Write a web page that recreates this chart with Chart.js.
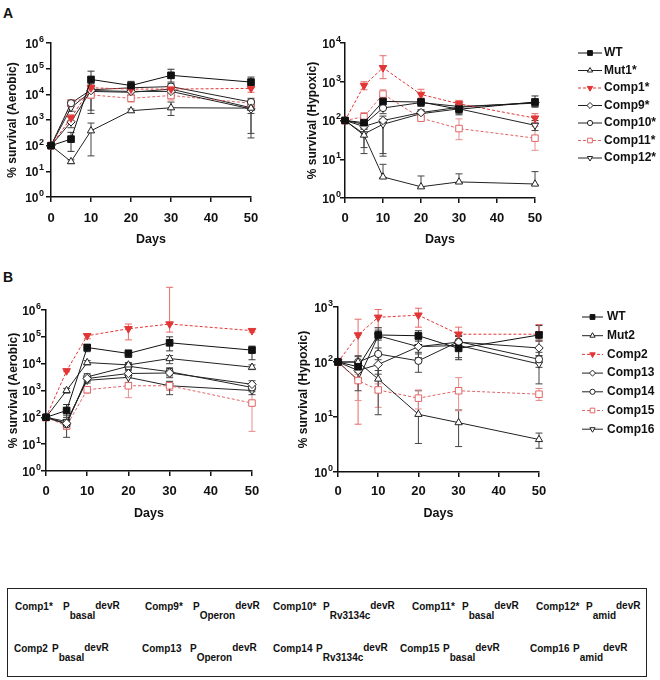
<!DOCTYPE html>
<html><head><meta charset="utf-8">
<script src="https://cdn.jsdelivr.net/npm/chart.js@4.4.0/dist/chart.umd.min.js"></script>
<style>
body{margin:0;width:660px;height:680px;position:relative;background:#fff;font-family:"Liberation Sans",Arial,sans-serif;font-weight:bold;overflow:hidden;color:#111}
canvas{position:absolute}
.lbl{position:absolute;font-size:14px;line-height:16px}
#box{position:absolute;left:7px;top:588px;width:638px;height:87px;border:1.5px solid #222}
.t{position:absolute;font-size:10px;line-height:12px;white-space:nowrap}
.t .sb,.t .sp{font-size:10px;position:relative}
.t .sb{top:8.5px}
.t .sp{top:-1.5px}
</style></head><body>
<div class="lbl" style="left:3px;top:5px">A</div>
<div class="lbl" style="left:3px;top:269px">B</div>
<canvas id="cAL" width="290" height="260" style="left:0;top:0"></canvas>
<canvas id="cAR" width="360" height="260" style="left:300px;top:0"></canvas>
<canvas id="cBL" width="290" height="260" style="left:0;top:270px"></canvas>
<canvas id="cBR" width="368" height="260" style="left:292px;top:270px"></canvas>
<div id="box"></div>
<div id="boxText"></div>
<script>
// ---------------- DATA ----------------
const days = [0, 5, 10, 20, 30, 50];
const dayTicks = [0, 10, 20, 30, 40, 50];
const tickAerobic = [1, 10, 100, 1000, 10000, 100000, 1000000];
const tickHypoxicA = [1, 10, 100, 1000, 10000];
const tickHypoxicB = [1, 10, 100, 1000];
const seriesA = ['WT', 'Mut1*', 'Comp1*', 'Comp9*', 'Comp10*', 'Comp11*', 'Comp12*'];
const seriesB = ['WT', 'Mut2', 'Comp2', 'Comp13', 'Comp14', 'Comp15', 'Comp16'];

// Panel A, aerobic (mean and [low, high] error)
const aAerWT = [100, 180, 38000, 22000, 55000, 30000];
const aAerWTerr = [[100,100],[60,330],[20000,80000],[15000,32000],[30000,95000],[18000,47000]];
const aAerMut1 = [100, 24, 380, 2300, 3000, 2900];
const aAerMut1err = [[100,100],[20,28],[40,760],[2000,2700],[1500,5000],[1800,4500]];
const aAerComp1 = [100, 1200, 18000, 16000, 16000, 17000];
const aAerComp1err = [[100,100],[900,1600],[12000,25000],[10000,22000],[10000,22000],[12000,22000]];
const aAerComp9 = [100, 850, 14000, 13000, 13000, 2700];
const aAerComp9err = [[100,100],[500,1300],[1800,26000],[9000,18000],[9000,18000],[300,4000]];
const aAerComp10 = [100, 4500, 15000, 18000, 20000, 5000];
const aAerComp10err = [[100,100],[3500,6000],[10000,22000],[13000,24000],[14000,26000],[3500,7000]];
const aAerComp11 = [100, 4500, 9500, 7000, 9000, 4500];
const aAerComp11err = [[100,100],[3500,6000],[7000,13000],[5000,10000],[6000,12000],[3000,6000]];
const aAerComp12 = [100, 3000, 13000, 12000, 16000, 3000];
const aAerComp12err = [[100,100],[2200,4000],[2400,20000],[9000,16000],[10000,20000],[200,5000]];

// Panel A, hypoxic
const aHypWT = [100, 88, 310, 300, 195, 300];
const aHypWTerr = [[100,100],[70,110],[220,420],[250,360],[140,260],[230,430]];
const aHypMut1 = [100, 42, 3.5, 1.95, 2.6, 2.3];
const aHypMut1err = [[100,100],[14,60],[3.4,7.4],[1.9,3.7],[2.5,4.2],[2.2,4.8]];
const aHypComp1 = [100, 800, 2300, 470, 270, 115];
const aHypComp1err = [[100,100],[620,1000],[1200,4700],[380,640],[220,330],[90,150]];
const aHypComp9 = [100, 70, 100, 160, 220, 290];
const aHypComp9err = [[100,100],[50,90],[14,130],[130,190],[170,270],[230,360]];
const aHypComp10 = [100, 80, 210, 290, 230, 280];
const aHypComp10err = [[100,100],[60,100],[150,270],[230,350],[180,290],[220,350]];
const aHypComp11 = [100, 125, 480, 115, 62, 35];
const aHypComp11err = [[100,100],[100,160],[380,620],[95,140],[32,110],[17,70]];
const aHypComp12 = [100, 45, 80, 150, 200, 75];
const aHypComp12err = [[100,100],[20,65],[12,110],[120,180],[150,250],[55,100]];

// Panel B, aerobic
const bAerWT = [100, 180, 40000, 24000, 60000, 32000];
const bAerWTerr = [[100,100],[100,300],[28000,52000],[17000,32000],[30000,100000],[14000,45000]];
const bAerMut2 = [100, 1000, 11000, 9000, 15500, 7400];
const bAerMut2err = [[100,100],[800,1200],[9000,13000],[7000,11000],[10000,20000],[6000,9000]];
const bAerComp2 = [100, 5400, 110000, 200000, 300000, 170000];
const bAerComp2err = [[100,100],[5000,6000],[85000,130000],[77000,300000],[150000,7000000],[150000,190000]];
const bAerComp13 = [100, 60, 2800, 4300, 4500, 1700];
const bAerComp13err = [[100,100],[45,80],[2200,3500],[3000,6000],[3000,6500],[1100,2300]];
const bAerComp14 = [100, 55, 3200, 8000, 5000, 1300];
const bAerComp14err = [[100,100],[40,75],[2500,4200],[5500,10000],[3500,7000],[900,1800]];
const bAerComp15 = [100, 48, 1070, 1500, 1500, 340];
const bAerComp15err = [[100,100],[35,60],[800,1400],[540,3000],[1000,2100],[30,1000]];
const bAerComp16 = [100, 70, 2400, 3100, 1500, 1000];
const bAerComp16err = [[100,100],[18,120],[1900,3000],[2000,4500],[700,2200],[700,1300]];

// Panel B, hypoxic
const bHypWT = [100, 82, 310, 300, 177, 310];
const bHypWTerr = [[100,100],[65,100],[250,380],[240,370],[110,240],[250,460]];
const bHypMut2 = [100, 100, 49, 11.2, 7.9, 3.9];
const bHypMut2err = [[100,100],[80,125],[28,70],[3.3,30],[2.9,13.4],[2.7,5.1]];
const bHypComp2 = [100, 310, 650, 710, 320, 320];
const bHypComp2err = [[100,100],[7.4,600],[420,900],[430,950],[240,430],[240,480]];
const bHypComp13 = [100, 70, 90, 190, 230, 180];
const bHypComp13err = [[100,100],[50,95],[60,130],[140,260],[180,290],[130,240]];
const bHypComp14 = [100, 100, 140, 105, 235, 112];
const bHypComp14err = [[100,100],[80,130],[110,180],[65,150],[180,300],[80,150]];
const bHypComp15 = [100, 46, 31, 22, 30, 26];
const bHypComp15err = [[100,100],[20,60],[15,40],[14,31],[13,52],[20,33]];
const bHypComp16 = [100, 47, 300, 190, 200, 92];
const bHypComp16err = [[100,100],[30,70],[11,420],[120,260],[120,300],[40,130]];

// Construct table
const boxRow1 = [['Comp1*','basal'],['Comp9*','Operon'],['Comp10*','Rv3134c'],['Comp11*','basal'],['Comp12*','amid']];
const boxRow2 = [['Comp2','basal'],['Comp13','Operon'],['Comp14','Rv3134c'],['Comp15','basal'],['Comp16','amid']];
const geneName = 'devR';

// ---------------- STYLE ----------------
const FONT = '"Liberation Sans", Arial, sans-serif';
const STY = [
  {c:'#111', f:'#111', s:'rect', rot:0, r:4.7, d:[], e:'#333'},
  {c:'#222', f:'#fff', s:'triangle', rot:0, r:4.2, d:[], e:'#444'},
  {c:'#e23636', f:'#e23636', s:'triangle', rot:180, r:4.4, d:[3,2], e:'#e86a6a'},
  {c:'#222', f:'#fff', s:'rectRot', rot:0, r:4.2, d:[], e:'#444'},
  {c:'#222', f:'#fff', s:'circle', rot:0, r:3.6, d:[], e:'#444'},
  {c:'#e06565', f:'#fff', s:'rect', rot:0, r:4.6, d:[3,2], e:'#ea8c8c'},
  {c:'#222', f:'#fff', s:'triangle', rot:180, r:4.2, d:[], e:'#444'}
];

function makeSets(labels, means, errs){
  return labels.map((lab,i)=>({
    label: lab,
    data: days.map((d,j)=>({x:d, y:means[i][j]})),
    errBars: errs[i], errColor: STY[i].e,
    borderColor: STY[i].c, borderWidth: 1, borderDash: STY[i].d,
    pointStyle: STY[i].s, pointRotation: STY[i].rot, pointRadius: STY[i].r,
    pointBackgroundColor: STY[i].f, pointBorderColor: STY[i].c, pointBorderWidth: 1,
    tension: 0, clip: false, fill: false
  }));
}

const errPlugin = {id:'errs', beforeDatasetsDraw(chart){
  const ctx = chart.ctx, xs = chart.scales.x, ys = chart.scales.y;
  chart.data.datasets.forEach(ds=>{
    ctx.save(); ctx.strokeStyle = ds.errColor; ctx.lineWidth = 1;
    ds.errBars.forEach((pr,j)=>{
      if (pr[0] === pr[1]) return;
      const px = xs.getPixelForValue(ds.data[j].x);
      const y1 = ys.getPixelForValue(pr[0]), y2 = ys.getPixelForValue(pr[1]);
      ctx.beginPath();
      ctx.moveTo(px, y1); ctx.lineTo(px, y2);
      ctx.moveTo(px-3.5, y1); ctx.lineTo(px+3.5, y1);
      ctx.moveTo(px-3.5, y2); ctx.lineTo(px+3.5, y2);
      ctx.stroke();
    });
    ctx.restore();
  });
}};

const yLabPlugin = {id:'yLab', afterDraw(chart, args, o){
  const ctx = chart.ctx, s = chart.scales.y, ax = chart.chartArea.left;
  ctx.save(); ctx.fillStyle = '#111'; ctx.textBaseline = 'middle'; ctx.textAlign = 'right';
  s.ticks.forEach(t=>{
    const py = s.getPixelForValue(t.value);
    const e = String(Math.round(Math.log10(t.value)));
    ctx.font = 'bold 9px ' + FONT;
    const ew = ctx.measureText(e).width;
    ctx.fillText(e, ax - o.expGap, py - 3.5);
    ctx.font = 'bold 12px ' + FONT;
    ctx.fillText('10', ax - o.expGap - ew - o.sep, py + 1.5);
  });
  ctx.restore();
}};

function drawMarker(ctx, ds, x, y, scale){
  ctx.fillStyle = ds.pointBackgroundColor; ctx.strokeStyle = ds.pointBorderColor; ctx.lineWidth = 1;
  const r = ds.pointRadius * scale;
  if (Chart.helpers && Chart.helpers.drawPoint) {
    Chart.helpers.drawPoint(ctx, {pointStyle: ds.pointStyle, rotation: ds.pointRotation, radius: r, borderWidth: 1}, x, y);
    return;
  }
  ctx.beginPath();
  if (ds.pointStyle === 'circle') ctx.arc(x, y, r, 0, Math.PI*2);
  else if (ds.pointStyle === 'rect') { const h = r*Math.SQRT1_2; ctx.rect(x-h, y-h, 2*h, 2*h); }
  else if (ds.pointStyle === 'rectRot') { ctx.moveTo(x, y-r); ctx.lineTo(x+r, y); ctx.lineTo(x, y+r); ctx.lineTo(x-r, y); ctx.closePath(); }
  else { let a = ds.pointRotation*Math.PI/180; for (let k=0;k<3;k++){ const px=x+Math.sin(a)*r, py=y-Math.cos(a)*r; k?ctx.lineTo(px,py):ctx.moveTo(px,py); a+=2*Math.PI/3;} ctx.closePath(); }
  ctx.fill(); ctx.stroke();
}

const legPlugin = {id:'leg', afterDraw(chart, args, o){
  if (!o.show) return;
  const ctx = chart.ctx;
  chart.data.datasets.forEach((ds,i)=>{
    const y = o.y0 + i*o.dy;
    ctx.save();
    ctx.strokeStyle = ds.borderColor; ctx.lineWidth = 1; ctx.setLineDash(ds.borderDash);
    ctx.beginPath(); ctx.moveTo(o.x0, y); ctx.lineTo(o.x1, y); ctx.stroke();
    ctx.setLineDash([]);
    drawMarker(ctx, ds, (o.x0+o.x1)/2, y, 0.72);
    ctx.fillStyle = '#111'; ctx.font = 'bold 12px ' + FONT; ctx.textAlign = 'left'; ctx.textBaseline = 'middle';
    ctx.fillText(ds.label, o.tx, y);
    ctx.restore();
  });
}};

function makeChart(id, cfg){
  const cv = document.getElementById(id);
  const ca = cfg.area;
  const axisGrid = {display:true, drawOnChartArea:false, drawTicks:true, tickLength:5, color:'#111', lineWidth:1.5};
  const axisBorder = {display:true, color:'#111', width:1.5};
  return new Chart(cv, {
    type: 'line',
    data: {datasets: makeSets(cfg.labels, cfg.means, cfg.errs)},
    options: {
      responsive: false, animation: false, devicePixelRatio: 1,
      layout: {padding: {left: 0, top: ca.t, right: cv.width - ca.r, bottom: cv.height - cfg.daysBottom}},
      scales: {
        x: {type:'linear', min:0, max:50,
            afterBuildTicks: s=>{ s.ticks = dayTicks.map(v=>({value:v})); },
            afterFit: s=>{ s.height = cfg.daysBottom - ca.b; },
            grid: axisGrid, border: axisBorder,
            ticks: {color:'#111', font:{family:FONT, size:13, weight:'bold'}, padding: cfg.tickPad, maxRotation:0},
            title: {display:true, text:'Days', color:'#111', font:{family:FONT, size:12.5, weight:'bold'}, padding:{top:0, bottom:0}}},
        y: {type:'logarithmic', min: cfg.yTicks[0], max: cfg.yTicks[cfg.yTicks.length-1],
            afterBuildTicks: s=>{ s.ticks = cfg.yTicks.map(v=>({value:v})); },
            afterFit: s=>{ s.width = ca.l; },
            grid: axisGrid, border: axisBorder,
            ticks: {display:false},
            title: {display:true, text: cfg.yTitle, color:'#111', font:{family:FONT, size:12, weight:'bold'}, padding:{top: cfg.yTitlePad, bottom:0}}}
      },
      plugins: {legend:{display:false}, tooltip:{enabled:false},
        yLab: {expGap: cfg.expGap, sep: 0.5},
        leg: cfg.legend || {show:false}}
    },
    plugins: [errPlugin, yLabPlugin, legPlugin]
  });
}

makeChart('cAL', {labels: seriesA,
  means: [aAerWT, aAerMut1, aAerComp1, aAerComp9, aAerComp10, aAerComp11, aAerComp12],
  errs: [aAerWTerr, aAerMut1err, aAerComp1err, aAerComp9err, aAerComp10err, aAerComp11err, aAerComp12err],
  yTicks: tickAerobic, yTitle: '% survival (Aerobic)',
  area: {l:51, t:43, r:251, b:197}, tickPad: 8.5, daysBottom: 247.5, yTitlePad: 5.3, expGap: 7});

makeChart('cAR', {labels: seriesA,
  means: [aHypWT, aHypMut1, aHypComp1, aHypComp9, aHypComp10, aHypComp11, aHypComp12],
  errs: [aHypWTerr, aHypMut1err, aHypComp1err, aHypComp9err, aHypComp10err, aHypComp11err, aHypComp12err],
  yTicks: tickHypoxicA, yTitle: '% survival (Hypoxic)',
  area: {l:45, t:43, r:235, b:198}, tickPad: 7.5, daysBottom: 247, yTitlePad: 5.3, expGap: 4,
  legend: {show:true, x0:278, x1:302, tx:304, y0:53, dy:17.5}});

makeChart('cBL', {labels: seriesB,
  means: [bAerWT, bAerMut2, bAerComp2, bAerComp13, bAerComp14, bAerComp15, bAerComp16],
  errs: [bAerWTerr, bAerMut2err, bAerComp2err, bAerComp13err, bAerComp14err, bAerComp15err, bAerComp16err],
  yTicks: tickAerobic, yTitle: '% survival (Aerobic)',
  area: {l:46, t:40, r:252, b:201}, tickPad: 7.9, daysBottom: 250.8, yTitlePad: 6.8, expGap: 5});

makeChart('cBR', {labels: seriesB,
  means: [bHypWT, bHypMut2, bHypComp2, bHypComp13, bHypComp14, bHypComp15, bHypComp16],
  errs: [bHypWTerr, bHypMut2err, bHypComp2err, bHypComp13err, bHypComp14err, bHypComp15err, bHypComp16err],
  yTicks: tickHypoxicB, yTitle: '% survival (Hypoxic)',
  area: {l:46, t:37, r:247, b:202}, tickPad: 6.9, daysBottom: 250.8, yTitlePad: 4.8, expGap: 5,
  legend: {show:true, x0:290, x1:311, tx:315, y0:47, dy:18.7}});

// Construct table text (layout positions kept separate from content)
const boxNameX1 = [15, 145, 273, 412, 536], boxPX1 = [63, 193, 323, 462, 586];
const boxNameX2 = [14, 142, 273, 400, 530], boxPX2 = [52, 190, 316, 443, 573];
const holder = document.getElementById('boxText');
function addRow(row, nx, px, top){
  row.forEach((it,k)=>{
    const a = document.createElement('div'); a.className='t'; a.style.left=nx[k]+'px'; a.style.top=top+'px'; a.textContent=it[0]; holder.appendChild(a);
    const b = document.createElement('div'); b.className='t'; b.style.left=px[k]+'px'; b.style.top=top+'px';
    b.innerHTML = 'P<span class="sb">'+it[1]+'</span><span class="sp">'+geneName+'</span>'; holder.appendChild(b);
  });
}
addRow(boxRow1, boxNameX1, boxPX1, 601);
addRow(boxRow2, boxNameX2, boxPX2, 643);
</script>
</body></html>
